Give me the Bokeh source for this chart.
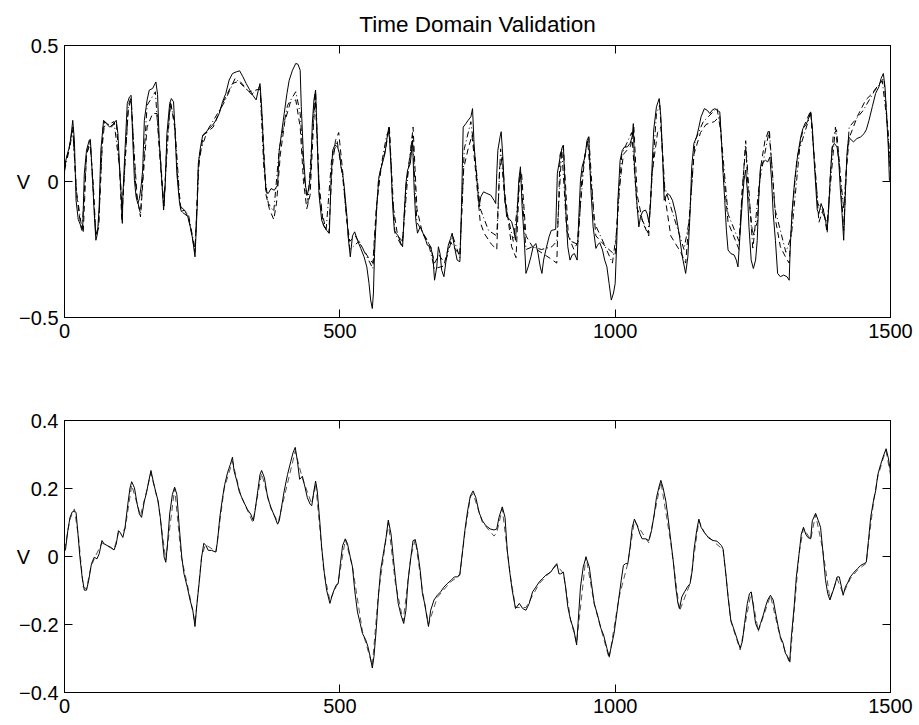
from bokeh.plotting import figure
from bokeh.models import ColumnDataSource, FixedTicker, LinearAxis, Range1d
from bokeh.layouts import column
from bokeh.embed import file_html
from bokeh.resources import INLINE

FONT = "Liberation Sans"

# ---------------- data ----------------
x_ticks = [0, 500, 1000, 1500]
top_y_ticks = [-0.5, 0, 0.5]
top_y_labels = {-0.5: "\u22120.5", 0: "0", 0.5: "0.5"}
bot_y_ticks = [-0.4, -0.2, 0, 0.2, 0.4]
bot_y_labels = {-0.4: "\u22120.4", -0.2: "\u22120.2", 0: "0", 0.2: "0.2", 0.4: "0.4"}
y_label = "V"
title_text = "Time Domain Validation"

# top panel: measured output (solid)
top_meas_x = [0, 1, 5, 9, 12, 15, 18, 21, 25, 29, 33, 36, 40, 45, 47, 51, 54, 57, 60, 63, 66, 71, 76, 82, 88, 94,
              97, 100, 103, 105, 106, 109, 114, 118, 121, 124, 127, 130, 133, 136, 139, 142, 145, 150, 154, 160,
              166, 169, 172, 177, 180, 183, 186, 191, 194, 198, 201, 204, 209, 212, 218, 224, 230, 233, 237, 241,
              243, 247, 251, 257, 263, 269, 275, 281, 287, 293, 299, 305, 312, 318, 324, 330, 336, 342, 348, 352,
              355, 358, 362, 366, 370, 375, 381, 387, 390, 394, 399, 404, 408, 414, 420, 424, 428, 430, 434, 438,
              441, 444, 447, 450, 453, 456, 459, 462, 467, 472, 476, 481, 484, 487, 491, 496, 500, 502, 505, 508,
              513, 515, 519, 523, 527, 532, 538, 544, 549, 553, 556, 559, 561, 563, 567, 571, 577, 582, 586, 589,
              593, 596, 599, 602, 606, 611, 614, 617, 620, 623, 628, 632, 635, 638, 641, 646, 650, 653, 656, 659,
              665, 669, 672, 676, 679, 682, 685, 689, 693, 697, 701, 704, 707, 713, 718, 721, 724, 729, 733, 738,
              741, 744, 749, 753, 756, 761, 767, 774, 780, 783, 785, 787, 791, 793, 796, 799, 803, 807, 812, 816,
              819, 822, 825, 828, 831, 835, 838, 842, 847, 851, 856, 860, 864, 867, 870, 874, 880, 884, 892, 895,
              900, 904, 906, 910, 914, 918, 922, 926, 931, 934, 937, 940, 945, 949, 952, 956, 960, 965, 968, 972,
              977, 981, 985, 989, 993, 997, 1000, 1003, 1005, 1009, 1013, 1017, 1022, 1027, 1031, 1033, 1035,
              1039, 1043, 1046, 1050, 1055, 1058, 1061, 1064, 1067, 1070, 1075, 1080, 1083, 1086, 1089, 1092,
              1095, 1099, 1104, 1110, 1116, 1122, 1128, 1132, 1136, 1139, 1143, 1148, 1152, 1156, 1162, 1167,
              1172, 1176, 1181, 1185, 1190, 1193, 1196, 1199, 1202, 1205, 1210, 1216, 1220, 1223, 1226, 1231,
              1234, 1237, 1240, 1243, 1247, 1251, 1255, 1258, 1261, 1264, 1269, 1273, 1277, 1281, 1284, 1287,
              1291, 1295, 1300, 1306, 1312, 1316, 1318, 1321, 1326, 1331, 1337, 1341, 1346, 1350, 1355, 1358,
              1362, 1367, 1370, 1374, 1378, 1382, 1385, 1388, 1391, 1394, 1398, 1403, 1406, 1409, 1412, 1415,
              1418, 1421, 1424, 1429, 1433, 1439, 1446, 1452, 1456, 1461, 1467, 1473, 1479, 1483, 1487, 1490,
              1493, 1496, 1498, 1500]
top_meas_y = [0.03, 0.066, 0.10, 0.127, 0.17, 0.225, 0.15, -0.07, -0.14, -0.16, -0.175, 0.03, 0.115, 0.152, 0.155,
              0.005, -0.118, -0.216, -0.19, -0.09, 0.115, 0.225, 0.213, 0.2, 0.21, 0.225, 0.176, 0.054, -0.056,
              -0.154, -0.056, 0.078, 0.287, 0.311, 0.317, 0.152, 0.005, -0.056, -0.081, -0.063, -0.02, 0.042, 0.225,
              0.3, 0.336, 0.342, 0.366, 0.32, 0.15, -0.007, -0.105, -0.007, 0.176, 0.287, 0.305, 0.293, 0.176, 0.03,
              -0.081, -0.11, -0.105, -0.13, -0.18, -0.216, -0.277, -0.093, 0.066, 0.127, 0.17, 0.183, 0.195, 0.207,
              0.225, 0.25, 0.293, 0.324, 0.373, 0.397, 0.403, 0.407, 0.385, 0.36, 0.338, 0.317, 0.3, 0.336, 0.36,
              0.275, 0.09, -0.038, -0.044, -0.026, -0.032, -0.013, 0.115, 0.176, 0.25, 0.324, 0.372, 0.409, 0.434,
              0.431, 0.409, 0.275, 0.09, -0.02, -0.05, -0.02, 0.03, 0.213, 0.3, 0.336, 0.152, -0.044, -0.142,
              -0.167, -0.18, -0.19, 0.005, 0.115, 0.134, 0.127, 0.097, 0.054, 0.03, -0.02, -0.13, -0.2, -0.277,
              -0.2, -0.185, -0.216, -0.246, -0.277, -0.314, -0.375, -0.436, -0.467, -0.41, -0.265, -0.093, 0.017,
              0.066, 0.103, 0.164, 0.2, 0.054, -0.093, -0.18, -0.19, -0.2, -0.228, -0.24, -0.118, -0.007, 0.042,
              0.066, 0.152, -0.032, -0.142, -0.19, -0.167, -0.185, -0.2, -0.216, -0.234, -0.24, -0.277, -0.363,
              -0.314, -0.24, -0.265, -0.326, -0.35, -0.289, -0.234, -0.21, -0.19, -0.228, -0.289, -0.295, -0.093,
              0.2, 0.213, 0.225, 0.238, 0.268, 0.127, 0.005, -0.093, -0.056, -0.038, -0.044, -0.05, -0.069, -0.081,
              0.03, 0.115, 0.164, 0.183, 0.09, -0.044, -0.13, -0.136, -0.148, -0.179, -0.216, -0.118, 0.005, 0.054,
              -0.093, -0.216, -0.338, -0.314, -0.277, -0.24, -0.228, -0.265, -0.314, -0.338, -0.289, -0.252, -0.203,
              -0.18, -0.176, 0.03, 0.09, 0.127, 0.134, -0.093, -0.24, -0.289, -0.27, -0.265, -0.289, -0.13, 0.005,
              0.054, 0.09, 0.152, 0.164, -0.032, -0.167, -0.246, -0.234, -0.225, -0.252, -0.289, -0.314, -0.375,
              -0.436, -0.41, -0.375, -0.216, -0.069, 0.078, 0.115, 0.127, 0.127, 0.14, 0.164, 0.213, 0.054, -0.069,
              -0.167, -0.13, -0.11, -0.105, -0.118, -0.148, -0.093, 0.054, 0.19, 0.275, 0.305, 0.238, 0.103, -0.069,
              -0.056, -0.044, -0.05, -0.069, -0.118, -0.19, -0.277, -0.338, -0.277, -0.118, 0.054, 0.14, 0.164, 0.2,
              0.238, 0.268, 0.262, 0.25, 0.262, 0.268, 0.262, 0.256, 0.152, 0.03, -0.069, -0.179, -0.252, -0.265,
              -0.27, -0.289, -0.314, -0.216, -0.069, 0.005, 0.042, -0.032, -0.167, -0.289, -0.32, -0.289, -0.216,
              -0.044, 0.054, 0.072, 0.078, 0.072, 0.09, 0.005, -0.118, -0.216, -0.338, -0.35, -0.344, -0.35, -0.363,
              -0.24, -0.118, 0.005, 0.09, 0.164, 0.195, 0.207, 0.225, 0.256, 0.2, 0.054, -0.105, -0.118, -0.081,
              -0.105, -0.142, -0.179, -0.093, 0.03, 0.127, 0.14, 0.127, 0.078, -0.032, -0.118, -0.216, -0.044, 0.103,
              0.164, 0.152, 0.146, 0.158, 0.164, 0.176, 0.19, 0.225, 0.275, 0.324, 0.348, 0.379, 0.397, 0.348, 0.238,
              0.127, 0.005, 0.0]

# top panel: model 1 (dashed)
top_m1_x = [0, 8, 15, 22, 30, 34, 40, 46, 52, 57, 62, 68, 73, 85, 94, 100, 104, 110, 116, 121, 126, 132, 138, 143,
            150, 160, 168, 172, 178, 181, 186, 193, 200, 206, 212, 225, 237, 243, 252, 270, 290, 305, 318, 335, 355,
            360, 366, 372, 380, 385, 392, 400, 410, 420, 428, 434, 440, 446, 452, 456, 462, 470, 480, 486, 492, 498,
            505, 512, 518, 528, 540, 552, 560, 566, 575, 583, 590, 596, 605, 614, 620, 628, 633, 640, 650, 665, 672,
            680, 690, 700, 710, 718, 725, 733, 740, 746, 755, 762, 775, 785, 790, 795, 800, 812, 820, 826, 830, 838,
            850, 865, 880, 894, 900, 906, 915, 925, 933, 940, 950, 956, 965, 983, 1000, 1006, 1015, 1028, 1034,
            1040, 1050, 1061, 1067, 1077, 1083, 1090, 1101, 1119, 1128, 1136, 1143, 1155, 1165, 1180, 1190, 1196,
            1205, 1215, 1225, 1230, 1237, 1242, 1250, 1258, 1264, 1272, 1279, 1285, 1292, 1300, 1310, 1316, 1322,
            1330, 1342, 1355, 1362, 1370, 1378, 1385, 1390, 1396, 1402, 1408, 1415, 1420, 1425, 1440, 1455, 1465,
            1480, 1488, 1493, 1500]
top_m1_y = [0.05, 0.12, 0.2, -0.05, -0.17, -0.19, 0.1, 0.15, 0.0, -0.2, -0.17, 0.12, 0.22, 0.2, 0.22, 0.05, -0.14,
            0.07, 0.27, 0.3, 0.12, -0.06, -0.13, 0.02, 0.2, 0.25, 0.25, 0.15, -0.02, -0.09, 0.15, 0.29, 0.2, 0.0,
            -0.11, -0.13, -0.26, 0.05, 0.17, 0.2, 0.3, 0.36, 0.37, 0.33, 0.34, 0.2, -0.05, -0.1, -0.14, -0.08, 0.1,
            0.22, 0.29, 0.3, 0.2, 0.0, -0.1, -0.05, 0.2, 0.33, 0.0, -0.16, -0.19, 0.05, 0.15, 0.18, 0.04, -0.13,
            -0.22, -0.2, -0.24, -0.28, -0.3, -0.1, 0.05, 0.12, 0.2, -0.08, -0.2, -0.22, -0.02, 0.1, 0.2, -0.1,
            -0.19, -0.24, -0.3, -0.27, -0.3, -0.22, -0.25, -0.27, 0.05, 0.12, 0.17, 0.05, -0.15, -0.19, -0.23,
            -0.25, 0.05, 0.09, -0.05, -0.24, -0.28, 0.0, 0.03, -0.2, -0.24, -0.26, -0.28, -0.3, 0.1, 0.13, -0.2,
            -0.25, -0.22, 0.03, 0.15, 0.0, -0.2, -0.24, -0.27, -0.05, 0.1, 0.13, 0.2, -0.05, -0.15, -0.2, 0.03,
            0.18, 0.2, -0.05, -0.2, -0.26, -0.3, -0.1, 0.1, 0.18, 0.21, 0.22, 0.24, 0.05, -0.15, -0.2, -0.25,
            -0.05, 0.13, -0.05, -0.2, -0.15, 0.05, 0.15, 0.19, 0.05, -0.15, -0.24, -0.28, -0.3, -0.1, 0.08, 0.2,
            0.26, 0.08, -0.15, -0.1, -0.19, 0.0, 0.17, 0.19, 0.05, -0.18, 0.05, 0.16, 0.24, 0.3, 0.32, 0.36, 0.38,
            0.25, 0.02]

# top panel: model 2 (dash-dot)
top_m2_x = [0, 10, 15, 22, 32, 40, 47, 57, 62, 70, 90, 100, 105, 116, 121, 130, 138, 150, 165, 172, 180, 192, 200,
            210, 225, 237, 245, 260, 290, 310, 325, 340, 355, 362, 370, 380, 390, 405, 420, 428, 436, 442, 455, 464,
            475, 485, 495, 505, 518, 535, 560, 570, 585, 590, 600, 613, 625, 632, 640, 660, 672, 690, 705, 718, 726,
            738, 745, 755, 770, 785, 792, 800, 815, 822, 828, 838, 850, 866, 885, 894, 903, 912, 920, 931, 945, 952,
            962, 980, 995, 1003, 1012, 1030, 1040, 1060, 1075, 1081, 1090, 1105, 1125, 1134, 1145, 1160, 1185,
            1192, 1205, 1225, 1237, 1250, 1262, 1280, 1290, 1310, 1320, 1335, 1355, 1368, 1385, 1400, 1415, 1425,
            1450, 1470, 1485, 1495, 1500]
top_m2_y = [0.04, 0.13, 0.19, -0.04, -0.18, 0.1, 0.14, -0.2, -0.16, 0.2, 0.22, 0.05, -0.1, 0.28, 0.31, -0.04, -0.12,
            0.28, 0.33, 0.12, -0.09, 0.29, 0.22, -0.09, -0.12, -0.25, 0.1, 0.19, 0.29, 0.38, 0.35, 0.32, 0.35, 0.05,
            -0.08, -0.11, 0.12, 0.28, 0.33, 0.25, 0.0, -0.08, 0.32, -0.08, -0.18, 0.08, 0.15, 0.02, -0.25, -0.22,
            -0.32, 0.0, 0.17, 0.19, -0.19, -0.24, 0.06, 0.17, -0.15, -0.22, -0.32, -0.31, -0.2, -0.28, 0.12, 0.22,
            0.1, -0.1, -0.18, -0.2, 0.12, -0.08, -0.22, -0.1, 0.04, -0.25, -0.24, -0.25, -0.24, -0.22, 0.12, -0.18,
            -0.22, -0.23, 0.1, 0.17, -0.15, -0.23, -0.3, -0.18, 0.1, 0.18, -0.1, -0.19, 0.25, 0.28, -0.02, -0.12,
            -0.25, -0.15, 0.15, 0.22, 0.27, 0.18, -0.12, -0.22, 0.15, -0.25, 0.0, 0.19, -0.1, -0.26, -0.2, 0.12,
            0.25, -0.08, -0.15, 0.2, -0.1, 0.2, 0.26, 0.33, 0.37, 0.2, 0.05]

# bottom panel: measured output (solid)
bot_meas_x = [0, 2, 6, 10, 14, 18, 21, 24, 28, 32, 36, 40, 44, 49, 54, 59, 63, 68, 72, 78, 84, 90, 94, 98, 101, 106,
              110, 115, 119, 122, 127, 132, 136, 140, 145, 149, 153, 157, 161, 166, 170, 174, 178, 181, 184, 187,
              191, 196, 200, 204, 208, 213, 217, 223, 228, 233, 237, 240, 245, 249, 253, 257, 261, 267, 275, 278,
              282, 287, 291, 296, 301, 305, 308, 313, 317, 322, 326, 332, 338, 343, 346, 351, 355, 358, 363, 369,
              375, 381, 387, 390, 394, 399, 405, 411, 415, 419, 423, 427, 432, 437, 441, 446, 449, 453, 456, 459,
              464, 467, 472, 476, 482, 487, 493, 497, 501, 505, 510, 514, 519, 523, 527, 532, 537, 541, 547, 551,
              555, 559, 562, 566, 570, 574, 579, 584, 588, 593, 597, 602, 606, 611, 616, 620, 624, 629, 633, 637,
              641, 646, 650, 654, 659, 661, 665, 671, 677, 683, 689, 695, 702, 708, 714, 718, 723, 727, 732, 737,
              742, 747, 753, 759, 765, 773, 780, 785, 789, 795, 800, 804, 809, 813, 819, 826, 832, 838, 844, 850,
              856, 862, 868, 874, 883, 889, 894, 898, 901, 906, 910, 914, 919, 925, 930, 933, 937, 942, 947, 953,
              957, 962, 968, 974, 979, 985, 989, 993, 998, 1003, 1007, 1011, 1015, 1019, 1023, 1027, 1031, 1035,
              1040, 1045, 1049, 1055, 1061, 1066, 1071, 1075, 1080, 1083, 1087, 1092, 1096, 1101, 1106, 1110, 1114,
              1117, 1121, 1126, 1131, 1136, 1140, 1143, 1148, 1152, 1156, 1162, 1170, 1178, 1185, 1193, 1196, 1201,
              1205, 1210, 1216, 1222, 1227, 1231, 1235, 1240, 1244, 1247, 1251, 1255, 1260, 1264, 1269, 1273, 1277,
              1282, 1287, 1291, 1296, 1300, 1305, 1309, 1313, 1317, 1320, 1325, 1329, 1334, 1338, 1342, 1346, 1350,
              1355, 1358, 1364, 1369, 1373, 1377, 1382, 1386, 1390, 1394, 1398, 1403, 1407, 1411, 1414, 1418, 1423,
              1427, 1434, 1440, 1446, 1452, 1456, 1460, 1464, 1469, 1473, 1477, 1482, 1487, 1492, 1496, 1500]
bot_meas_y = [0.015, 0.022, 0.076, 0.115, 0.131, 0.134, 0.129, 0.076, -0.002, -0.06, -0.099, -0.099, -0.07, -0.021,
              -0.002, -0.007, 0.008, 0.047, 0.037, 0.032, 0.027, 0.019, 0.037, 0.076, 0.071, 0.056, 0.086, 0.154,
              0.202, 0.22, 0.202, 0.154, 0.125, 0.115, 0.163, 0.188, 0.222, 0.253, 0.222, 0.188, 0.163, 0.115, 0.047,
              -0.002, -0.017, 0.037, 0.125, 0.183, 0.204, 0.183, 0.095, -0.002, -0.051, -0.09, -0.128, -0.158,
              -0.206, -0.148, -0.07, -0.002, 0.039, 0.032, 0.018, 0.018, 0.013, 0.047, 0.115, 0.173, 0.212, 0.246,
              0.27, 0.292, 0.251, 0.222, 0.193, 0.173, 0.159, 0.139, 0.125, 0.105, 0.134, 0.193, 0.241, 0.253, 0.232,
              0.173, 0.144, 0.12, 0.095, 0.105, 0.144, 0.193, 0.241, 0.28, 0.305, 0.321, 0.28, 0.227, 0.236, 0.202,
              0.173, 0.154, 0.149, 0.193, 0.222, 0.193, 0.095, 0.027, -0.051, -0.099, -0.138, -0.109, -0.085, -0.08,
              -0.021, 0.032, 0.052, 0.037, -0.002, -0.031, -0.099, -0.163, -0.197, -0.226, -0.245, -0.265, -0.294,
              -0.328, -0.294, -0.216, -0.119, -0.041, 0.008, 0.056, 0.107, 0.066, -0.002, -0.08, -0.138, -0.172,
              -0.197, -0.158, -0.07, -0.002, 0.047, 0.049, 0.018, -0.041, -0.109, -0.138, -0.187, -0.206, -0.158,
              -0.128, -0.114, -0.104, -0.09, -0.08, -0.07, -0.06, -0.06, -0.051, 0.018, 0.076, 0.134, 0.178, 0.193,
              0.173, 0.129, 0.105, 0.091, 0.081, 0.078, 0.081, 0.115, 0.146, 0.115, 0.018, -0.051, -0.099, -0.153,
              -0.138, -0.153, -0.158, -0.138, -0.104, -0.09, -0.075, -0.065, -0.055, -0.046, -0.031, -0.021, -0.051,
              -0.051, -0.046, -0.09, -0.148, -0.187, -0.216, -0.26, -0.187, -0.09, -0.031, -0.002, -0.031, -0.08,
              -0.138, -0.172, -0.211, -0.231, -0.27, -0.294, -0.265, -0.226, -0.167, -0.119, -0.07, -0.026, -0.021,
              -0.021, 0.027, 0.086, 0.11, 0.091, 0.066, 0.052, 0.052, 0.047, 0.076, 0.125, 0.173, 0.207, 0.224,
              0.202, 0.163, 0.115, 0.047, -0.021, -0.09, -0.138, -0.153, -0.119, -0.104, -0.09, -0.08, -0.041,
              0.018, 0.076, 0.11, 0.086, 0.071, 0.054, 0.047, 0.045, 0.032, 0.022, -0.051, -0.119, -0.187, -0.216,
              -0.245, -0.27, -0.25, -0.197, -0.138, -0.109, -0.104, -0.148, -0.197, -0.216, -0.197, -0.172, -0.148,
              -0.128, -0.114, -0.128, -0.163, -0.206, -0.236, -0.255, -0.284, -0.294, -0.309, -0.236, -0.148, -0.06,
              0.008, 0.066, 0.086, 0.066, 0.056, 0.052, 0.105, 0.127, 0.105, 0.086, 0.018, -0.07, -0.109, -0.128,
              -0.109, -0.09, -0.06, -0.06, -0.09, -0.114, -0.09, -0.075, -0.06, -0.046, -0.036, -0.026, -0.021,
              -0.017, 0.047, 0.115, 0.163, 0.193, 0.241, 0.27, 0.295, 0.317, 0.29, 0.251]

# bottom panel: model (dashed)
bot_mod_x = [0, 10, 18, 26, 34, 40, 48, 56, 68, 90, 98, 110, 122, 138, 157, 170, 184, 200, 212, 228, 237, 249, 256,
             275, 290, 305, 320, 342, 358, 375, 388, 419, 432, 449, 456, 471, 482, 497, 510, 523, 541, 559, 570, 588,
             601, 615, 629, 637, 650, 661, 677, 701, 718, 727, 737, 742, 759, 780, 785, 795, 809, 819, 838, 862, 894,
             906, 919, 930, 947, 962, 989, 1007, 1023, 1035, 1061, 1083, 1101, 1117, 1136, 1152, 1162, 1178, 1196,
             1210, 1227, 1247, 1260, 1282, 1300, 1317, 1334, 1342, 1355, 1364, 1377, 1390, 1403, 1414, 1427, 1440,
             1456, 1460, 1470, 1477, 1487, 1492, 1500]
bot_mod_y = [0.02, 0.11, 0.14, 0.05, -0.09, -0.095, -0.03, 0.0, 0.04, 0.02, 0.07, 0.08, 0.21, 0.12, 0.245, 0.16,
             -0.01, 0.2, 0.0, -0.12, -0.195, 0.0, 0.035, 0.015, 0.2, 0.28, 0.18, 0.1, 0.245, 0.14, 0.1, 0.31, 0.23,
             0.155, 0.215, -0.045, -0.13, -0.075, 0.05, -0.03, -0.22, -0.32, -0.11, 0.1, -0.08, -0.19, 0.0, 0.05,
             -0.1, -0.2, -0.12, -0.075, -0.055, 0.07, 0.175, 0.185, 0.1, 0.06, 0.07, 0.14, -0.05, -0.15, -0.15,
             -0.08, -0.025, -0.05, -0.185, -0.255, 0.0, -0.14, -0.3, -0.12, -0.02, 0.105, 0.04, 0.22, 0.04, -0.16,
             -0.08, 0.105, 0.07, 0.045, 0.02, -0.19, -0.275, -0.105, -0.22, -0.115, -0.24, -0.315, 0.01, 0.083,
             0.05, 0.123, 0.02, -0.125, -0.065, -0.11, -0.065, -0.04, -0.02, 0.04, 0.17, 0.235, 0.29, 0.31, 0.24]


# ---------------- helpers ----------------
def style_axis(ax, ticks, overrides=None, show=True, standoff=6):
    ax.ticker = FixedTicker(ticks=ticks)
    ax.major_tick_in = 8
    ax.major_tick_out = 0
    ax.minor_tick_line_color = None
    ax.axis_line_color = "black"
    ax.major_tick_line_color = "black"
    ax.major_label_text_font = FONT
    if show:
        ax.major_label_text_color = "black"
        ax.major_label_text_font_size = "20px"
        ax.major_label_standoff = standoff
        if overrides:
            ax.major_label_overrides = overrides
    else:
        # tick marks only: the labels are not painted at all
        ax.major_label_text_color = None
        ax.major_label_text_font_size = "0px"
        ax.major_label_standoff = 0


def make_fig(height, ymin, ymax, yticks, ylabels, border_top, border_bottom, title=None):
    p = figure(width=919, height=height, x_range=Range1d(0, 1500), y_range=Range1d(ymin, ymax),
               output_backend="svg", toolbar_location=None,
               min_border_left=64, min_border_right=29,
               min_border_top=border_top, min_border_bottom=border_bottom)
    if title:
        p.title.text = title
        p.title.align = "center"
        p.title.text_font = FONT
        p.title.text_font_size = "22.5px"
        p.title.text_font_style = "normal"
        p.title.text_color = "black"
        p.title.standoff = 18
    p.xgrid.visible = False
    p.ygrid.visible = False
    p.outline_line_color = "black"
    p.background_fill_color = "white"
    p.border_fill_color = "white"
    style_axis(p.xaxis[0], x_ticks, standoff=6)
    labels = dict(ylabels)
    yax = p.yaxis[0]
    if "axis_label_orientation" in yax.properties():
        yax.axis_label = y_label
        yax.axis_label_orientation = "horizontal"
        yax.axis_label_standoff = -14
        yax.axis_label_text_font = FONT
        yax.axis_label_text_font_size = "20px"
        yax.axis_label_text_font_style = "normal"
        yax.axis_label_text_color = "black"
    else:
        labels[0] = y_label + "\u2002\u2009" + labels[0]
    style_axis(yax, yticks, labels, standoff=6)
    top_ax = LinearAxis()
    style_axis(top_ax, x_ticks, show=False)
    p.add_layout(top_ax, "above")
    right_ax = LinearAxis()
    style_axis(right_ax, yticks, show=False)
    p.add_layout(right_ax, "right")
    return p


# ---------------- top panel ----------------
p1 = make_fig(368, -0.5, 0.5, top_y_ticks, top_y_labels, 45, 51, title=title_text)
p1.line(x="x", y="y", source=ColumnDataSource(dict(x=top_m2_x, y=top_m2_y)),
        line_color="black", line_width=1, line_dash="6 3 1 3")
p1.line(x="x", y="y", source=ColumnDataSource(dict(x=top_m1_x, y=top_m1_y)),
        line_color="black", line_width=1, line_dash="6 4")
p1.line(x="x", y="y", source=ColumnDataSource(dict(x=top_meas_x, y=top_meas_y)),
        line_color="black", line_width=1)

# ---------------- bottom panel ----------------
p2 = make_fig(356, -0.4, 0.4, bot_y_ticks, bot_y_labels, 52, 32)
p2.line(x="x", y="y", source=ColumnDataSource(dict(x=bot_mod_x, y=bot_mod_y)),
        line_color="#555555", line_width=1, line_dash="6 4")
p2.line(x="x", y="y", source=ColumnDataSource(dict(x=bot_meas_x, y=bot_meas_y)),
        line_color="black", line_width=1)

layout = column(p1, p2, spacing=0)
open("out.html", "w").write(file_html(layout, INLINE))
